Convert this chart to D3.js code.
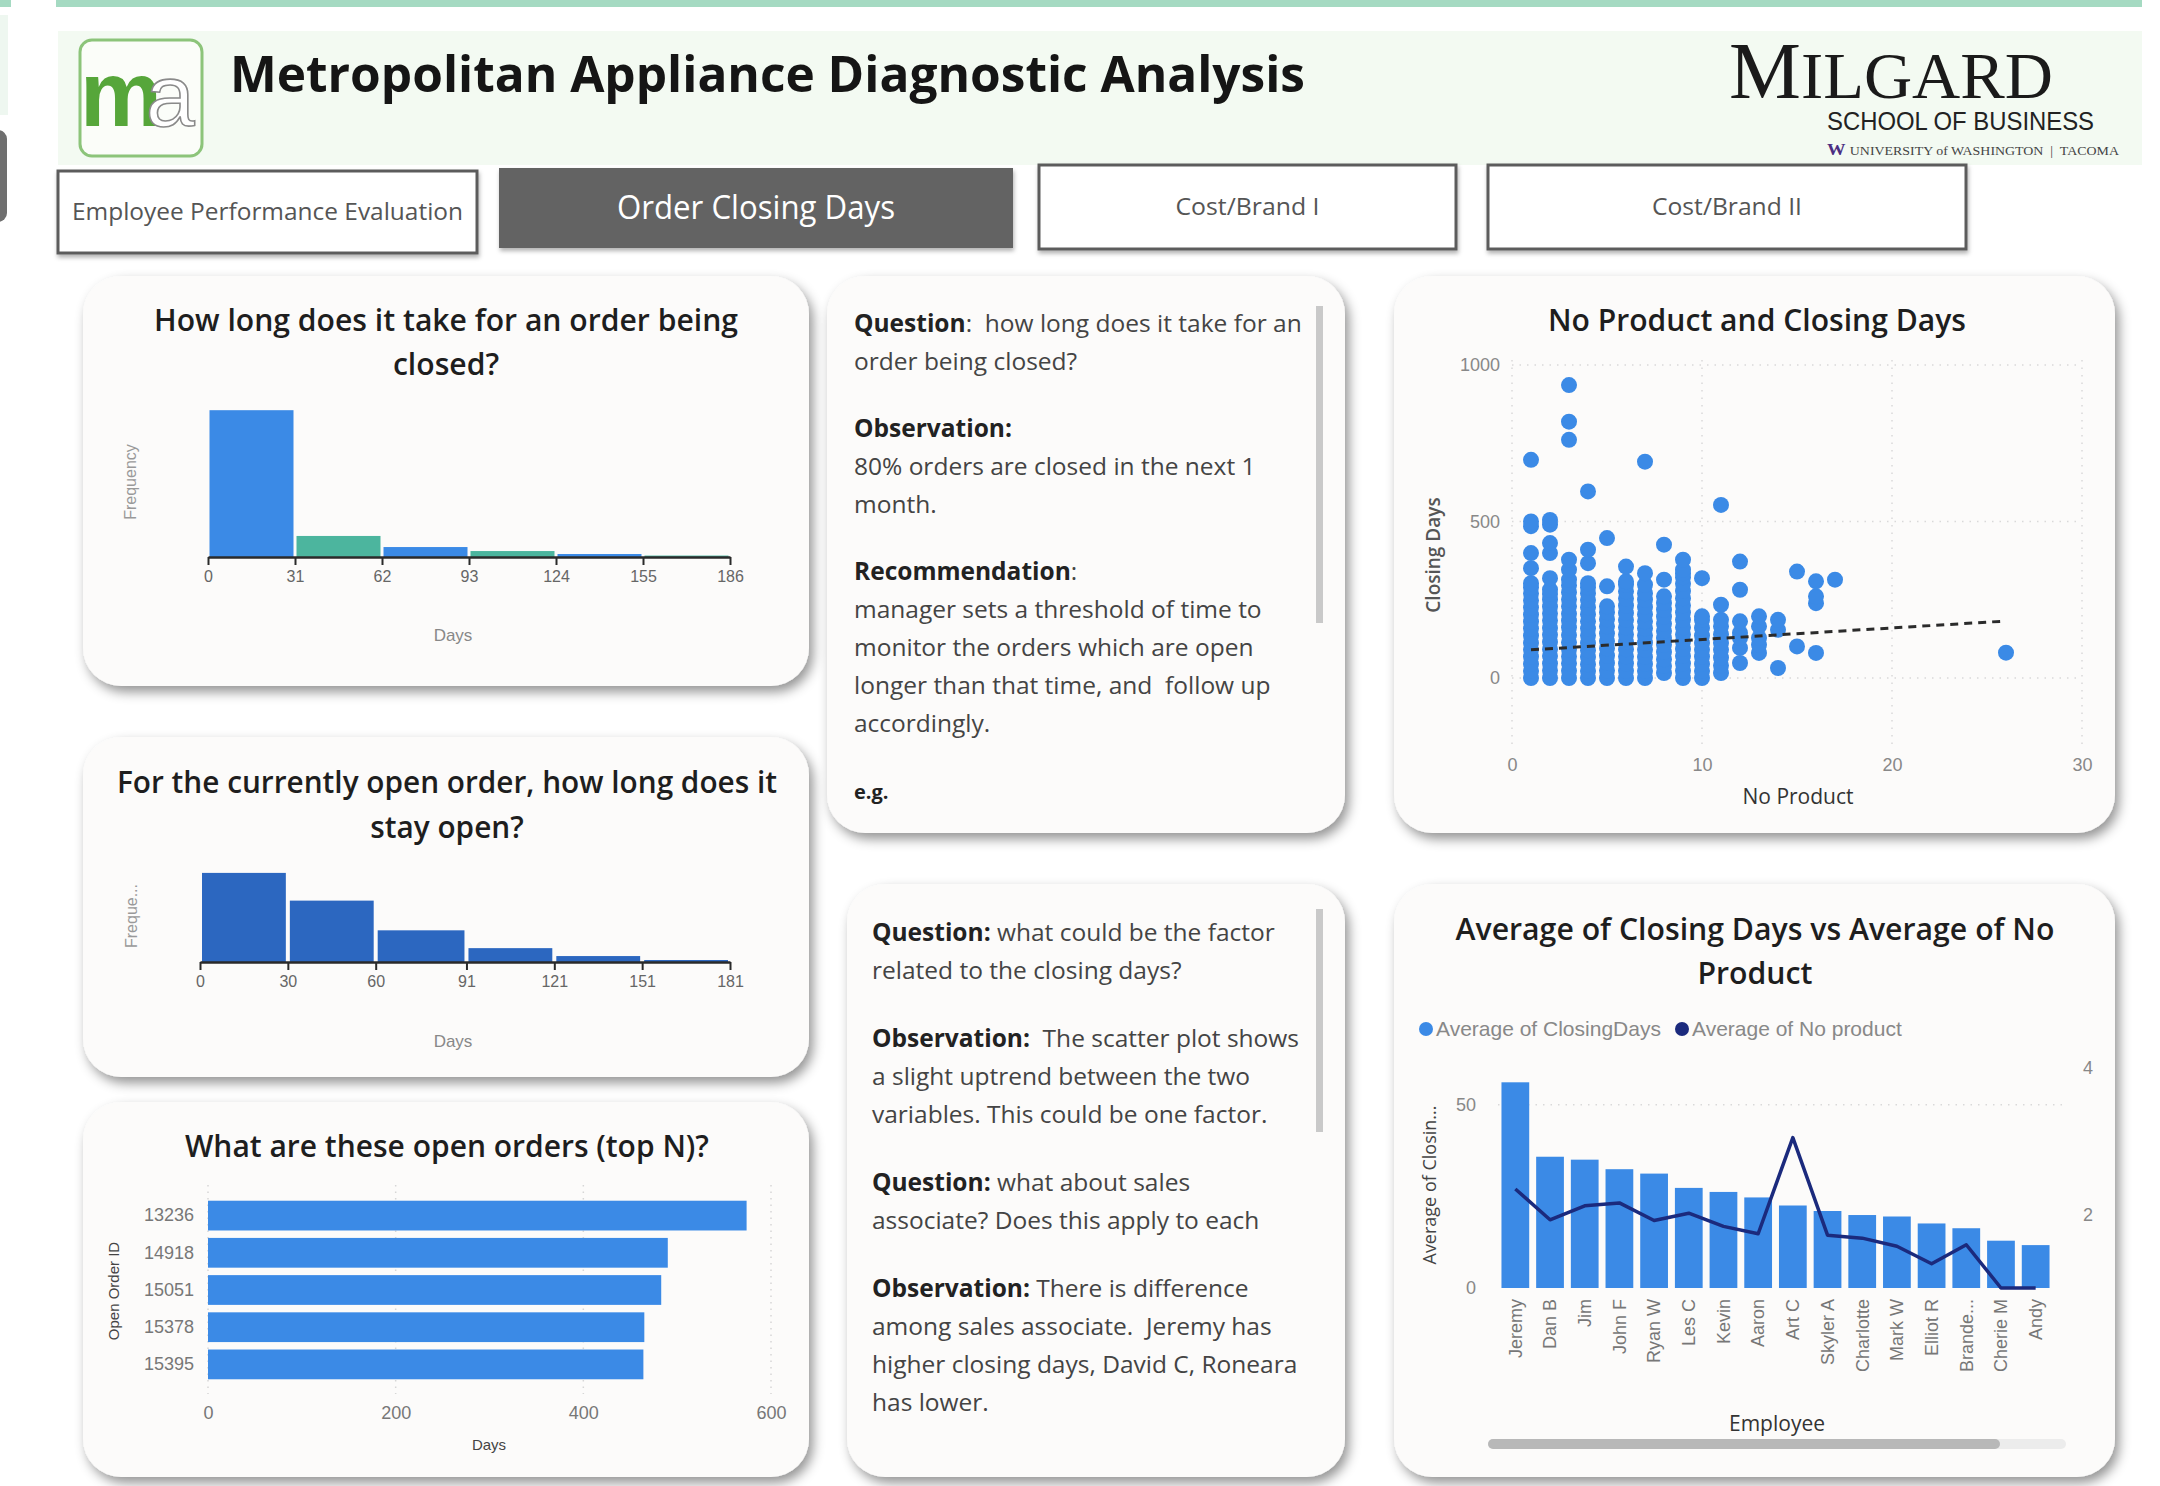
<!DOCTYPE html>
<html>
<head>
<meta charset="utf-8">
<script src="https://cdnjs.cloudflare.com/ajax/libs/d3/7.8.5/d3.min.js"></script>
<style>
  body { margin: 0; background: #fff; }
  svg { display: block; font-family: "Open Sans", sans-serif; }
  .pre { white-space: pre; }
  .narrow { font-family: "Liberation Sans Narrow", "Liberation Sans", sans-serif; }
</style>
</head>
<body>
<svg id="dash" width="2160" height="1486"></svg>
<script>
// report page tabs
var tabNames = ["Employee Performance Evaluation", "Order Closing Days", "Cost/Brand I", "Cost/Brand II"];

// histogram of closing days (closed orders)
var closedEdges = [0, 31, 62, 93, 124, 155, 186];
var closedFreq = [1430, 205, 97, 58, 29, 14];

// histogram of days open (currently open orders)
var openEdges = [0, 30, 60, 91, 121, 151, 181];
var openFreq = [45, 31, 16, 7, 3, 1];

// top open orders
var orderIds = ["13236", "14918", "15051", "15378", "15395"];
var orderDays = [574, 490, 483, 465, 464];

// scatter: number of products vs closing days
var productCounts = [1, 2, 3, 4, 5, 6, 7, 8, 9, 10, 11, 12, 13, 14, 15, 16, 17, 26];
var closingDays = [
  [0, 22, 45, 68, 90, 112, 135, 158, 180, 202, 225, 248, 270, 290, 303, 351, 399, 485, 500, 697],
  [0, 24, 46, 70, 92, 115, 138, 160, 184, 206, 228, 250, 268, 282, 319, 399, 431, 490, 505],
  [0, 23, 47, 69, 91, 114, 137, 161, 183, 205, 229, 251, 274, 296, 314, 346, 378, 761, 819, 936],
  [0, 22, 44, 67, 89, 112, 136, 158, 181, 204, 226, 249, 271, 290, 303, 367, 410, 596],
  [0, 24, 48, 71, 95, 118, 142, 165, 188, 210, 229, 293, 447],
  [0, 23, 46, 69, 92, 115, 139, 162, 185, 208, 231, 254, 277, 298, 309, 356],
  [0, 22, 45, 67, 90, 113, 136, 159, 181, 204, 227, 250, 271, 298, 335, 691],
  [16, 38, 60, 83, 106, 128, 150, 173, 196, 218, 240, 261, 314, 426],
  [0, 23, 46, 70, 93, 116, 139, 162, 186, 209, 232, 255, 278, 301, 322, 335, 346, 378],
  [0, 22, 45, 68, 90, 112, 135, 160, 185, 197, 319],
  [16, 40, 65, 90, 112, 140, 165, 186, 234, 553],
  [48, 96, 128, 144, 181, 282, 372],
  [80, 106, 128, 165, 197],
  [32, 154, 186],
  [101, 340],
  [80, 239, 261, 309],
  [314],
  [81]
];
var trendPoints = [[1, 90], [26, 182]];

// averages per employee
var employees = ["Jeremy", "Dan B", "Jim", "John F", "Ryan W", "Les C", "Kevin", "Aaron", "Art C",
  "Skyler A", "Charlotte", "Mark W", "Elliot R", "Brande...", "Cherie M", "Andy"];
var avgClosingDays = [56.1, 35.8, 35.0, 32.4, 31.2, 27.3, 26.2, 24.7, 22.5, 21.0, 19.9, 19.5, 17.6, 16.3, 12.9, 11.7];
var avgNoProduct = [2.35, 1.93, 2.12, 2.16, 1.92, 2.02, 1.84, 1.74, 3.05, 1.72, 1.68, 1.57, 1.33, 1.59, 1.0, 1.0];

// commentary text, [text, bold, size]
var notesTop = [
  [["Question", 1], [":  how long does it take for an", 0]],
  [["order being closed?", 0]],
  null,
  [["Observation:", 1]],
  [["80% orders are closed in the next 1", 0]],
  [["month.", 0]],
  null,
  [["Recommendation", 1], [":", 0]],
  [["manager sets a threshold of time to", 0]],
  [["monitor the orders which are open", 0]],
  [["longer than that time, and  follow up", 0]],
  [["accordingly.", 0]],
  null,
  [["e.g.", 1, 20]]
];
var notesBottom = [
  [["Question:", 1], [" what could be the factor", 0]],
  [["related to the closing days?", 0]],
  null,
  [["Observation:", 1], ["  The scatter plot shows", 0]],
  [["a slight uptrend between the two", 0]],
  [["variables. This could be one factor.", 0]],
  null,
  [["Question:", 1], [" what about sales", 0]],
  [["associate? Does this apply to each", 0]],
  null,
  [["Observation:", 1], [" There is difference", 0]],
  [["among sales associate.  Jeremy has", 0]],
  [["higher closing days, David C, Roneara", 0]],
  [["has lower.", 0]]
];

var blue = "#3b8ae6", teal = "#4cb59e", darkBlue = "#2c67c0", navy = "#1b2a7d";
var noteSize = 24.5;

var svg = d3.select("#dash");

// card shadow
var defs = svg.append("defs");
var f = defs.append("filter").attr("id", "shadow").attr("x", "-10%").attr("y", "-10%").attr("width", "125%").attr("height", "130%");
f.append("feDropShadow").attr("dx", 4).attr("dy", 6).attr("stdDeviation", 6)
  .attr("flood-color", "#000").attr("flood-opacity", 0.42);
var f2 = defs.append("filter").attr("id", "softshadow").attr("x", "-10%").attr("y", "-20%").attr("width", "120%").attr("height", "150%");
f2.append("feDropShadow").attr("dx", 1).attr("dy", 3).attr("stdDeviation", 2)
  .attr("flood-color", "#000").attr("flood-opacity", 0.3);

// helper: draw centred multi-line title, squeezed to the measured width of the first line
function title(lines, cx, y0, lh, width, size) {
  var t = svg.selectAll(null).data(lines).enter().append("text")
    .attr("x", cx).attr("y", function(d, i) { return y0 + i * lh; })
    .attr("text-anchor", "middle")
    .attr("font-size", size).attr("font-weight", 600).attr("fill", "#1e1e1e")
    .text(function(d) { return d; });
  var nat = t.nodes().map(function(n) { return n.getComputedTextLength(); });
  var r = width / nat[0];
  t.attr("textLength", function(d, i) { return nat[i] * r; })
    .attr("lengthAdjust", "spacingAndGlyphs");
  return t;
}

function fit(sel, width) {
  sel.attr("textLength", width).attr("lengthAdjust", "spacingAndGlyphs");
  return sel;
}

// ---------- page chrome ----------
svg.append("rect").attr("x", 0).attr("y", 0).attr("width", 11).attr("height", 7).attr("fill", "#a5dac2");
svg.append("rect").attr("x", 56).attr("y", 0).attr("width", 2086).attr("height", 7).attr("fill", "#a5dac2");
svg.append("rect").attr("x", 0).attr("y", 15).attr("width", 8).attr("height", 100).attr("fill", "#eef7f0");
svg.append("rect").attr("x", -12).attr("y", 130).attr("width", 19).attr("height", 92).attr("rx", 9).attr("fill", "#6f6f6f");

// header band
svg.append("rect").attr("x", 58).attr("y", 31).attr("width", 2084).attr("height", 134).attr("fill", "#f3faf2");

// logo: one text, the outlined "a" pulled back over the "m"
svg.append("rect").attr("x", 80).attr("y", 40).attr("width", 122).attr("height", 116).attr("rx", 12)
  .attr("fill", "#fbfdf9").attr("stroke", "#8cc47a").attr("stroke-width", 3);
var logo = svg.append("text").attr("x", 80).attr("y", 126).attr("font-family", "Liberation Sans, sans-serif");
logo.append("tspan").attr("font-weight", 700).attr("font-size", 92).attr("fill", "#56a63a").text("m");
logo.append("tspan").attr("dx", -16).attr("font-size", 88).attr("fill", "#fff")
  .attr("stroke", "#8a8a8a").attr("stroke-width", 1.6).text("a");

// main title
fit(svg.append("text").attr("x", 230).attr("y", 92).attr("font-size", 50).attr("font-weight", 700)
  .attr("fill", "#151515").text("Metropolitan Appliance Diagnostic Analysis"), 1075);

// Milgard mark
var mil = svg.append("text").attr("x", 1729).attr("y", 98).attr("font-family", "Liberation Serif, serif").attr("fill", "#1a1a1a");
mil.append("tspan").attr("font-size", 80).text("M");
mil.append("tspan").attr("font-size", 66).text("ILGARD");
fit(mil, 324);
fit(svg.append("text").attr("x", 1827).attr("y", 130).attr("font-family", "Liberation Sans, sans-serif")
  .attr("font-size", 26).attr("fill", "#222").text("SCHOOL OF BUSINESS"), 267);
var uw = svg.append("text").attr("x", 1827).attr("y", 155).attr("font-family", "Liberation Serif, serif").attr("class", "pre");
uw.append("tspan").attr("font-weight", 700).attr("font-size", 16).attr("fill", "#4b2e83").text("W ");
uw.append("tspan").attr("font-size", 12).attr("fill", "#444").text("UNIVERSITY of WASHINGTON  |  TACOMA");
fit(uw, 292);

// tabs
var tabs = [
  {x: 58, y: 171, w: 419, h: 82, fill: "#fff", color: "#555", size: 23, tw: 391},
  {x: 499, y: 168, w: 514, h: 80, fill: "#646464", color: "#fff", size: 32, tw: 278},
  {x: 1039, y: 165, w: 417, h: 84, fill: "#fff", color: "#555", size: 23, tw: 144},
  {x: 1488, y: 165, w: 478, h: 84, fill: "#fff", color: "#555", size: 23, tw: 150}
];
tabs.forEach(function(t, i) {
  svg.append("rect").attr("x", t.x).attr("y", t.y).attr("width", t.w).attr("height", t.h)
    .attr("fill", t.fill).attr("stroke", i === 1 ? "none" : "#5c5c5c").attr("stroke-width", 3)
    .attr("filter", "url(#softshadow)");
  var tx = svg.append("text").attr("x", t.x + t.w / 2).attr("y", t.y + t.h / 2)
    .attr("dy", "0.35em").attr("text-anchor", "middle")
    .attr("font-size", t.size).attr("fill", t.color).text(tabNames[i]);
  fit(tx, t.tw);
});

// cards
var cards = [
  [83, 276, 726, 410], [83, 737, 726, 340], [83, 1102, 726, 375],
  [827, 276, 518, 557], [847, 884, 498, 593],
  [1394, 276, 721, 557], [1394, 884, 721, 593]
];
svg.selectAll("rect.card").data(cards).enter().append("rect")
  .attr("class", "card")
  .attr("x", function(d) { return d[0]; }).attr("y", function(d) { return d[1]; })
  .attr("width", function(d) { return d[2]; }).attr("height", function(d) { return d[3]; })
  .attr("rx", 38).attr("fill", "#fcfbfa").attr("filter", "url(#shadow)");

// ---------- histograms ----------
function histogram(edges, freq, colors, x0, x1, base, yMax, yTop, gap) {
  var g = svg.append("g");
  var x = d3.scaleLinear().domain([edges[0], edges[edges.length - 1]]).range([x0, x1]);
  var y = d3.scaleLinear().domain([0, yMax]).range([base, yTop]);
  g.selectAll("rect").data(freq).enter().append("rect")
    .attr("x", function(d, i) { return x(edges[i]) + gap / 2; })
    .attr("width", function(d, i) { return x(edges[i + 1]) - x(edges[i]) - gap; })
    .attr("y", function(d) { return y(d); })
    .attr("height", function(d) { return base - y(d); })
    .attr("fill", function(d, i) { return colors[i % colors.length]; });
  var ax = g.append("g").attr("transform", "translate(0," + base + ")")
    .call(d3.axisBottom(x).tickValues(edges).tickSize(8).tickSizeOuter(0).tickPadding(6));
  ax.select(".domain").attr("stroke", "#2a2a2a").attr("stroke-width", 2.5);
  ax.selectAll(".tick line").attr("stroke", "#2a2a2a").attr("stroke-width", 2);
  ax.selectAll("text").attr("class", "narrow").attr("font-size", 16).attr("fill", "#666");
  return g;
}

title(["How long does it take for an order being", "closed?"], 446, 331, 44, 584, 31);
histogram(closedEdges, closedFreq, [blue, teal], 208, 730, 557, 1500, 403, 3);
svg.append("text").attr("class", "narrow").attr("transform", "translate(136,482) rotate(-90)")
  .attr("text-anchor", "middle").attr("font-size", 16).attr("fill", "#999").text("Frequency");
svg.append("text").attr("class", "narrow").attr("x", 453).attr("y", 641)
  .attr("text-anchor", "middle").attr("font-size", 17).attr("fill", "#888").text("Days");

title(["For the currently open order, how long does it", "stay open?"], 447, 793, 45, 660, 31);
histogram(openEdges, openFreq, [darkBlue], 200, 730, 962, 50, 863, 4);
svg.append("text").attr("class", "narrow").attr("transform", "translate(137,916) rotate(-90)")
  .attr("text-anchor", "middle").attr("font-size", 16).attr("fill", "#999").text("Freque...");
svg.append("text").attr("class", "narrow").attr("x", 453).attr("y", 1047)
  .attr("text-anchor", "middle").attr("font-size", 17).attr("fill", "#888").text("Days");

// ---------- top open orders ----------
title(["What are these open orders (top N)?"], 447, 1157, 44, 524, 31);
(function() {
  var g = svg.append("g");
  var x = d3.scaleLinear().domain([0, 600]).range([208, 771]);
  var y = d3.scaleBand().domain(orderIds).range([1197, 1383]).paddingInner(0.2).paddingOuter(0.1);
  g.selectAll("line.grid").data([0, 200, 400, 600]).enter().append("line")
    .attr("x1", function(d) { return x(d); }).attr("x2", function(d) { return x(d); })
    .attr("y1", 1185).attr("y2", 1394)
    .attr("stroke", "#d6d6d6").attr("stroke-width", 1.5).attr("stroke-dasharray", "1.5,5");
  g.selectAll("rect").data(orderDays).enter().append("rect")
    .attr("x", x(0)).attr("y", function(d, i) { return y(orderIds[i]); })
    .attr("width", function(d) { return x(d) - x(0); }).attr("height", y.bandwidth())
    .attr("fill", blue);
  var xa = g.append("g").attr("transform", "translate(0,1398)")
    .call(d3.axisBottom(x).tickValues([0, 200, 400, 600]).tickSize(0).tickPadding(8));
  var ya = g.append("g").attr("transform", "translate(201,0)")
    .call(d3.axisLeft(y).tickSize(0).tickPadding(7));
  [xa, ya].forEach(function(a) {
    a.select(".domain").remove();
    a.selectAll("text").attr("class", "narrow").attr("font-size", 18).attr("fill", "#777");
  });
  g.append("text").attr("class", "narrow").attr("transform", "translate(119,1291) rotate(-90)")
    .attr("text-anchor", "middle").attr("font-size", 15).attr("fill", "#444").text("Open Order ID");
  g.append("text").attr("class", "narrow").attr("x", 489).attr("y", 1450)
    .attr("text-anchor", "middle").attr("font-size", 15).attr("fill", "#444").text("Days");
})();

// ---------- commentary ----------
function notes(lines, x, y0, pitch, gap) {
  var y = y0;
  lines.forEach(function(line) {
    if (line === null) { y += gap; return; }
    var t = svg.append("text").attr("class", "pre").attr("x", x).attr("y", y).attr("font-size", noteSize);
    line.forEach(function(seg) {
      t.append("tspan")
        .attr("font-weight", seg[1] ? 700 : 400)
        .attr("font-size", seg[2] || noteSize)
        .attr("fill", seg[1] ? "#222" : "#444")
        .text(seg[0]);
    });
    y += pitch;
  });
}
notes(notesTop, 854, 332, 38, 29);
notes(notesBottom, 872, 941, 38, 30);
svg.append("rect").attr("x", 1316).attr("y", 306).attr("width", 7).attr("height", 317).attr("fill", "#c9c9c9");
svg.append("rect").attr("x", 1316).attr("y", 909).attr("width", 7).attr("height", 223).attr("fill", "#c9c9c9");

// ---------- scatter ----------
title(["No Product and Closing Days"], 1757, 331, 44, 418, 31);
(function() {
  var g = svg.append("g");
  var x = d3.scaleLinear().domain([0, 30]).range([1512, 2082]);
  var y = d3.scaleLinear().domain([0, 1000]).range([678, 365]);
  g.selectAll("line.v").data([0, 10, 20, 30]).enter().append("line")
    .attr("x1", function(d) { return x(d); }).attr("x2", function(d) { return x(d); })
    .attr("y1", 360).attr("y2", 745)
    .attr("stroke", "#d9d9d9").attr("stroke-width", 1.5).attr("stroke-dasharray", "1.5,6");
  g.selectAll("line.h").data([0, 500, 1000]).enter().append("line")
    .attr("x1", x(0)).attr("x2", x(30))
    .attr("y1", function(d) { return y(d); }).attr("y2", function(d) { return y(d); })
    .attr("stroke", "#d9d9d9").attr("stroke-width", 1.5).attr("stroke-dasharray", "1.5,6");
  var pts = [];
  productCounts.forEach(function(c, i) {
    closingDays[i].forEach(function(v) { pts.push([c, v]); });
  });
  g.selectAll("circle").data(pts).enter().append("circle")
    .attr("cx", function(d) { return x(d[0]); }).attr("cy", function(d) { return y(d[1]); })
    .attr("r", 8).attr("fill", blue);
  g.append("path").attr("d", d3.line()
      .x(function(d) { return x(d[0]); }).y(function(d) { return y(d[1]); })(trendPoints))
    .attr("fill", "none").attr("stroke", "#2b2b2b").attr("stroke-width", 3).attr("stroke-dasharray", "8,6");
  var ya = g.append("g").attr("transform", "translate(" + x(0) + ",0)")
    .call(d3.axisLeft(y).tickValues([0, 500, 1000]).tickFormat(d3.format("d")).tickSize(0).tickPadding(12));
  var xa = g.append("g").attr("transform", "translate(0,752)")
    .call(d3.axisBottom(x).tickValues([0, 10, 20, 30]).tickSize(0).tickPadding(6));
  [xa, ya].forEach(function(a) {
    a.select(".domain").remove();
    a.selectAll("text").attr("class", "narrow").attr("font-size", 18).attr("fill", "#888");
  });
  g.append("text").attr("x", 1798).attr("y", 804).attr("text-anchor", "middle")
    .attr("font-size", 21).attr("fill", "#333").text("No Product");
  g.append("text").attr("transform", "translate(1440,555) rotate(-90)").attr("text-anchor", "middle")
    .attr("font-size", 19).attr("font-weight", 600).attr("fill", "#555").text("Closing Days");
})();

// ---------- combo chart ----------
title(["Average of Closing Days vs Average of No", "Product"], 1755, 940, 44, 599, 31);
(function() {
  var g = svg.append("g");
  var x = d3.scaleBand().domain(employees).range([1498, 2053]).paddingInner(0.2).paddingOuter(0.1);
  var yL = d3.scaleLinear().domain([0, 60]).range([1288, 1068]);
  var yR = d3.scaleLinear().domain([1, 4]).range([1288, 1068]);
  g.append("line").attr("x1", 1498).attr("x2", 2062).attr("y1", yL(50)).attr("y2", yL(50))
    .attr("stroke", "#d9d9d9").attr("stroke-width", 1.5).attr("stroke-dasharray", "1.5,6");
  g.selectAll("rect").data(avgClosingDays).enter().append("rect")
    .attr("x", function(d, i) { return x(employees[i]); }).attr("width", x.bandwidth())
    .attr("y", function(d) { return yL(d); }).attr("height", function(d) { return yL(0) - yL(d); })
    .attr("fill", blue);
  g.append("path").attr("d", d3.line()
      .x(function(d, i) { return x(employees[i]) + x.bandwidth() / 2; })
      .y(function(d) { return yR(d); })(avgNoProduct))
    .attr("fill", "none").attr("stroke", navy).attr("stroke-width", 3.5).attr("stroke-linejoin", "round");
  var la = g.append("g").attr("transform", "translate(1482,0)")
    .call(d3.axisLeft(yL).tickValues([0, 50]).tickSize(0).tickPadding(6));
  var ra = g.append("g").attr("transform", "translate(2077,0)")
    .call(d3.axisRight(yR).tickValues([2, 4]).tickFormat(d3.format("d")).tickSize(0).tickPadding(6));
  var xa = g.append("g").attr("transform", "translate(0,1292)")
    .call(d3.axisBottom(x).tickSize(0));
  [la, ra, xa].forEach(function(a) {
    a.select(".domain").remove();
    a.selectAll("text").attr("class", "narrow").attr("font-size", 18).attr("fill", "#888");
  });
  xa.selectAll("text").attr("transform", "rotate(-90)").attr("text-anchor", "end")
    .attr("x", -7).attr("y", 0).attr("dy", "0.35em").attr("fill", "#777");
  // legend
  var leg = [["Average of ClosingDays", blue, 1426], ["Average of No product", navy, 1682]];
  leg.forEach(function(l) {
    g.append("circle").attr("cx", l[2]).attr("cy", 1029).attr("r", 7).attr("fill", l[1]);
    g.append("text").attr("class", "narrow").attr("x", l[2] + 10).attr("y", 1029).attr("dy", "0.35em")
      .attr("font-size", 21).attr("fill", "#888").text(l[0]);
  });
  g.append("text").attr("transform", "translate(1436,1185) rotate(-90)").attr("text-anchor", "middle")
    .attr("font-size", 18).attr("fill", "#444").text("Average of Closin...");
  g.append("text").attr("x", 1777).attr("y", 1431).attr("text-anchor", "middle")
    .attr("font-size", 21).attr("fill", "#333").text("Employee");
  // scrollbar
  g.append("rect").attr("x", 1488).attr("y", 1439).attr("width", 578).attr("height", 10).attr("rx", 5).attr("fill", "#ececec");
  g.append("rect").attr("x", 1488).attr("y", 1439).attr("width", 512).attr("height", 10).attr("rx", 5).attr("fill", "#b8b8b8");
})();
</script>
</body>
</html>
